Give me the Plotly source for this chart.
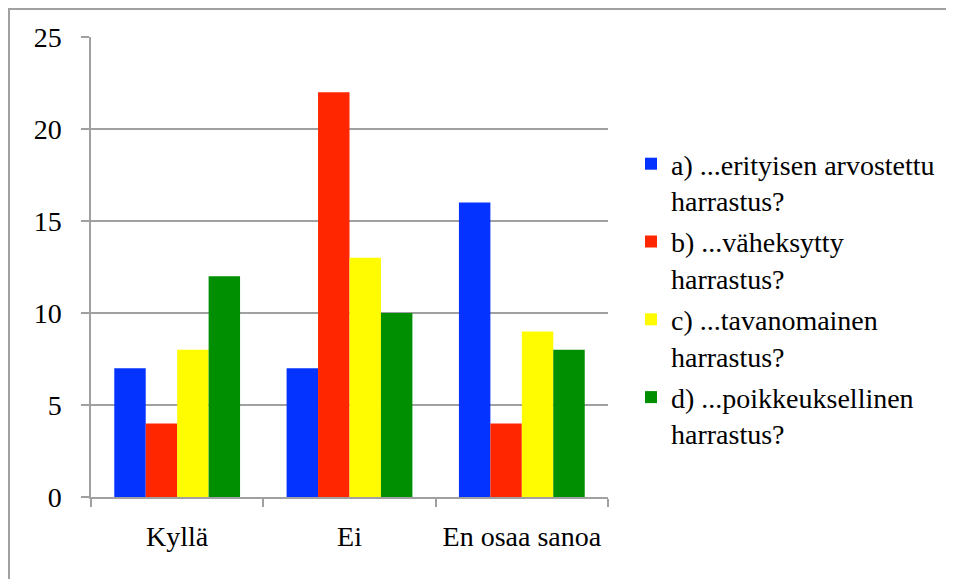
import plotly.graph_objects as go

categories = ["Kyllä", "Ei", "En osaa sanoa"]
series_names = [
    "a) ...erityisen arvostettu<br>harrastus?",
    "b) ...väheksytty<br>harrastus?",
    "c) ...tavanomainen<br>harrastus?",
    "d) ...poikkeuksellinen<br>harrastus?",
]
values_a = [7, 7, 16]
values_b = [4, 22, 4]
values_c = [8, 13, 9]
values_d = [12, 10, 8]
colors = ["#0433FF", "#FF2600", "#FFFB00", "#008F00"]
y_ticks = [0, 5, 10, 15, 20, 25]

OFF = 8  # page body margin
W, H = 954 - OFF, 579 - OFF
# plot area in window pixel coordinates
L, R, T, B = 91, 608, 37, 497

FONT = "Liberation Serif"
FS = 28

fig = go.Figure()
for i, (name, vals) in enumerate(zip(series_names, [values_a, values_b, values_c, values_d])):
    fig.add_trace(go.Bar(
        x=categories, y=vals, name=name,
        marker=dict(color=colors[i], line=dict(width=0)),
        legendgroup=f"g{i}",
    ))

pw = R - L
ph = B - T
def px_x(x):
    return (x - L) / pw
def px_y(y):
    return (B - y) / ph

fig.update_layout(
    width=W, height=H,
    margin=dict(l=L - OFF, r=W + OFF - R, t=T - OFF, b=H + OFF - B, pad=0),
    paper_bgcolor="white", plot_bgcolor="white",
    barmode="group", bargap=0.27, bargroupgap=0,
    font=dict(family=FONT, size=FS, color="black"),
    showlegend=True,
    legend=dict(
        x=px_x(631), y=px_y(139), xanchor="left", yanchor="top",
        font=dict(family=FONT, size=FS, color="black"),
        valign="top", tracegroupgap=2, itemwidth=30,
        bgcolor="rgba(0,0,0,0)",
    ),
    xaxis=dict(
        showline=True, linecolor="#A0A0A0", linewidth=1.5,
        ticks="outside", tickson="boundaries", ticklen=8, tickcolor="#A0A0A0", tickwidth=1.5,
        showgrid=False, tickfont=dict(family=FONT, size=FS),
        ticklabelstandoff=14,
    ),
    yaxis=dict(
        range=[0, 25], tickvals=y_ticks,
        showline=True, linecolor="#A0A0A0", linewidth=1.5,
        ticks="outside", ticklen=8, tickcolor="#A0A0A0", tickwidth=1.5,
        showgrid=True, gridcolor="#A0A0A0", gridwidth=1.5,
        zeroline=False, tickfont=dict(family=FONT, size=FS),
        ticklabelstandoff=14,
    ),
    shapes=[dict(
        type="rect", xref="paper", yref="paper",
        x0=px_x(OFF + 1), y0=px_y(620), x1=px_x(990), y1=px_y(OFF + 1),
        line=dict(color="#A0A0A0", width=2), layer="below",
    )],
)

fig.write_html("out.html")
